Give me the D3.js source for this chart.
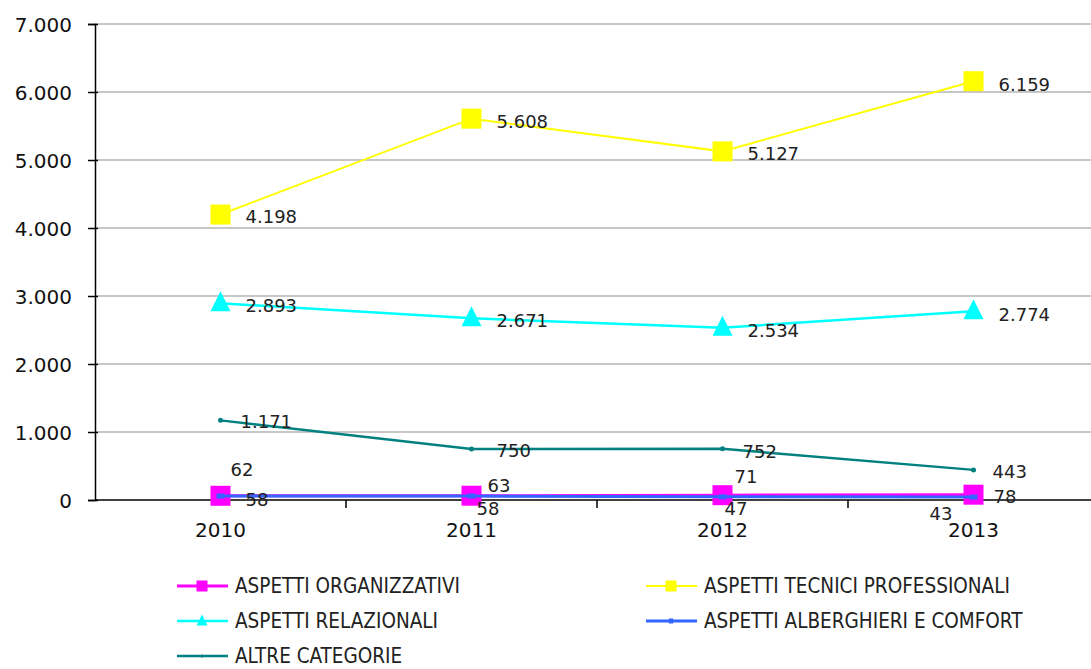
<!DOCTYPE html>
<html>
<head>
<meta charset="utf-8">
<script src="https://cdn.jsdelivr.net/npm/d3@7"></script>
<style>
  body { margin: 0; background: #fff; }
  svg text { font-family: "DejaVu Sans", Verdana, sans-serif; fill: #111; }
  .legend text { font-family: "DejaVu Sans Condensed", "DejaVu Sans", sans-serif; font-stretch: condensed; }
</style>
</head>
<body>
<svg id="chart" width="1091" height="669"></svg>
<script>
const years = ["2010", "2011", "2012", "2013"];
const organizzativi = [62, 63, 71, 78];
const tecnici = [4198, 5608, 5127, 6159];
const relazionali = [2893, 2671, 2534, 2774];
const alberghieri = [58, 58, 47, 43];
const altre = [1171, 750, 752, 443];
const yTicks = [0, 1000, 2000, 3000, 4000, 5000, 6000, 7000];

// label offsets per series [dx, dy] for each point
const series = [
  { name: "ASPETTI ORGANIZZATIVI", values: organizzativi, color: "#ff00ff", width: 3, marker: "square", size: 20,
    offsets: [[10, -20], [16, -4], [12, -12], [20, 8]] },
  { name: "ASPETTI TECNICI PROFESSIONALI", values: tecnici, color: "#ffff00", width: 2, marker: "square", size: 20,
    offsets: [[25, 8], [25, 9], [25, 9], [25, 10]] },
  { name: "ASPETTI RELAZIONALI", values: relazionali, color: "#00ffff", width: 2.5, marker: "triangle", size: 20,
    offsets: [[25, 9], [25, 9], [25, 9], [25, 10]] },
  { name: "ASPETTI ALBERGHIERI E COMFORT", values: alberghieri, color: "#3366ff", width: 3, marker: "dash", size: 0,
    offsets: [[25, 10], [5, 19], [2, 18], [-44, 23]] },
  { name: "ALTRE CATEGORIE", values: altre, color: "#008080", width: 2.5, marker: "dot", size: 4,
    offsets: [[20, 8], [25, 8], [20, 9], [19, 8]] }
];

const svg = d3.select("#chart");
const x = d3.scalePoint().domain(years).range([95, 1099]).padding(0.5);
const y = d3.scaleLinear().domain([0, 7000]).range([500, 24]);
const fmt = v => d3.format(",")(v).replace(/,/g, ".");

// gridlines
svg.append("g").selectAll("line")
  .data(yTicks.filter(t => t > 0))
  .enter().append("line")
  .attr("x1", 95).attr("x2", 1091)
  .attr("y1", d => y(d)).attr("y2", d => y(d))
  .attr("stroke", "#b4b4b4").attr("stroke-width", 1.5);

// y axis
const yAxis = svg.append("g").attr("transform", "translate(95,0)")
  .call(d3.axisLeft(y).tickValues(yTicks).tickSize(7).tickFormat(fmt));
yAxis.select(".domain").attr("stroke", "#000").attr("stroke-width", 1.5);
yAxis.selectAll(".tick line").attr("x2", -7).attr("x1", 3).attr("stroke", "#000").attr("stroke-width", 1.5);
yAxis.selectAll(".tick text").attr("x", -23).attr("dy", "0.35em")
  .style("font-size", "20px");

// x axis
svg.append("line").attr("x1", 95).attr("x2", 1091).attr("y1", 500).attr("y2", 500)
  .attr("stroke", "#000").attr("stroke-width", 1.5);
const step = x.step();
svg.append("g").selectAll("line")
  .data(years.slice(0, -1))
  .enter().append("line")
  .attr("x1", d => x(d) + step / 2).attr("x2", d => x(d) + step / 2)
  .attr("y1", 500).attr("y2", 508)
  .attr("stroke", "#000").attr("stroke-width", 1.5);
svg.append("g").selectAll("text")
  .data(years)
  .enter().append("text")
  .attr("x", d => x(d)).attr("y", 537)
  .attr("text-anchor", "middle")
  .style("font-size", "20px")
  .text(d => d);

const line = d3.line().x((d, i) => x(years[i])).y(d => y(d));

function drawMarker(g, s, cx, cy, scale) {
  const k = scale || 1;
  if (s.marker === "square") {
    const sz = s.size * k;
    g.append("rect").attr("x", cx - sz / 2).attr("y", cy - sz / 2)
      .attr("width", sz).attr("height", sz).attr("fill", s.color);
  } else if (s.marker === "triangle") {
    const sz = s.size * k;
    g.append("path")
      .attr("d", `M${cx},${cy - sz * 0.6}L${cx + sz / 2},${cy + sz * 0.4}L${cx - sz / 2},${cy + sz * 0.4}Z`)
      .attr("fill", s.color);
  } else if (s.marker === "dot") {
    g.append("circle").attr("cx", cx).attr("cy", cy).attr("r", s.size / 2 * k + 0.5).attr("fill", s.color);
  } else if (s.marker === "dash") {
    g.append("rect").attr("x", cx - 4 * k).attr("y", cy - 2.5).attr("width", 8 * k).attr("height", 5)
      .attr("fill", s.color);
  }
}

// lines & markers (organizzativi behind blue)
const drawOrder = [1, 2, 4, 0, 3];
drawOrder.forEach(idx => {
  const s = series[idx];
  const g = svg.append("g");
  g.append("path").datum(s.values).attr("d", line)
    .attr("fill", "none").attr("stroke", s.color).attr("stroke-width", s.width);
  s.values.forEach((v, i) => drawMarker(g, s, x(years[i]), y(v)));
});

// data labels
series.forEach(s => {
  svg.append("g").selectAll("text")
    .data(s.values)
    .enter().append("text")
    .attr("x", (d, i) => x(years[i]) + s.offsets[i][0])
    .attr("y", (d, i) => y(d) + s.offsets[i][1])
    .style("font-size", "18px")
    .style("fill", "#222")
    .text(d => fmt(d));
});

// legend
const legendPos = [[177, 586], [646, 586], [177, 621], [646, 621], [177, 656]];
const legend = svg.append("g").attr("class", "legend");
series.forEach((s, i) => {
  const [lx, ly] = legendPos[i];
  const g = legend.append("g");
  g.append("line").attr("x1", lx).attr("x2", lx + 51).attr("y1", ly).attr("y2", ly)
    .attr("stroke", s.color).attr("stroke-width", s.width);
  drawMarker(g, s, lx + 25, ly, 0.55);
  g.append("text").attr("x", lx + 58).attr("y", ly + 7)
    .style("font-size", "20.5px").style("fill", "#222")
    .text(s.name);
});
</script>
</body>
</html>
